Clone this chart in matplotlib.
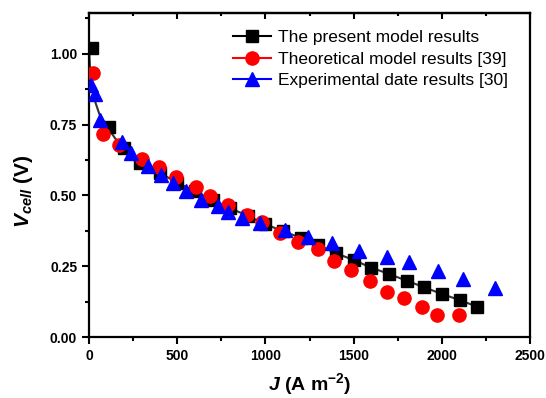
import numpy as np
import matplotlib
matplotlib.use("Agg")
import matplotlib.pyplot as plt
from matplotlib.lines import Line2D
from matplotlib.ticker import MultipleLocator, FormatStrFormatter

plt.rcParams['font.family'] = ['Liberation Sans', 'DejaVu Sans']
plt.rcParams['mathtext.fontset'] = 'custom'
plt.rcParams['mathtext.rm'] = 'Liberation Sans:bold'
plt.rcParams['mathtext.it'] = 'Liberation Sans:italic'
plt.rcParams['mathtext.bf'] = 'Liberation Sans:bold'
plt.rcParams['mathtext.bfit'] = 'Liberation Sans:bold:italic'

# present model (markers)
present_j = [15, 115, 200, 290, 400, 500, 600, 700, 800, 900, 1000, 1100,
             1200, 1300, 1400, 1500, 1600, 1700, 1800, 1900, 2000, 2100, 2200]
present_v = [1.02, 0.741, 0.669, 0.616, 0.58, 0.545, 0.515, 0.485, 0.455, 0.428,
             0.398, 0.374, 0.35, 0.325, 0.296, 0.272, 0.245, 0.223, 0.199, 0.176,
             0.152, 0.131, 0.107]

# present model (continuous curve)
curve_j = [0, 10, 30, 60, 100, 150, 200, 290, 400, 500, 600, 700, 800, 900, 1000,
           1100, 1200, 1300, 1400, 1500, 1600, 1700, 1800, 1900, 2000, 2100, 2200]
curve_v = [1.02, 0.90, 0.84, 0.785, 0.745, 0.70, 0.669, 0.616, 0.58, 0.545, 0.515,
           0.485, 0.455, 0.428, 0.398, 0.374, 0.35, 0.325, 0.296, 0.272, 0.245,
           0.223, 0.199, 0.176, 0.152, 0.131, 0.107]

# theoretical model [39]
theo_j = [20, 82, 170, 302, 398, 493, 607, 684, 788, 898, 983, 1080, 1185, 1300,
          1390, 1485, 1593, 1688, 1786, 1886, 1973, 2098]
theo_v = [0.932, 0.717, 0.678, 0.630, 0.602, 0.564, 0.529, 0.499, 0.466, 0.431,
          0.405, 0.368, 0.337, 0.310, 0.269, 0.237, 0.198, 0.158, 0.138, 0.107,
          0.078, 0.078]

# experimental data [30]
exp_j = [10, 35, 65, 185, 240, 335, 410, 475, 550, 635, 730, 790, 865, 970, 1110,
         1240, 1375, 1530, 1690, 1815, 1975, 2120, 2300]
exp_v = [0.89, 0.858, 0.765, 0.69, 0.65, 0.603, 0.572, 0.543, 0.514, 0.483, 0.462,
         0.443, 0.421, 0.404, 0.378, 0.353, 0.331, 0.304, 0.284, 0.265, 0.233,
         0.205, 0.174]

labels = ['The present model results', 'Theoretical model results [39]',
          'Experimental date results [30]']

fig = plt.figure(figsize=(5.46, 3.98), dpi=100)
ax = fig.add_axes([0.163, 0.153, 0.808, 0.815])

ax.plot(curve_j, curve_v, color='#333333', lw=1.5, zorder=2)
ax.plot(present_j, present_v, 's', color='black', ms=8.5, zorder=3)
ax.plot(theo_j, theo_v, 'o', color='red', mec='red', ms=9.5, zorder=4)
ax.plot(exp_j, exp_v, '^', color='blue', mec='blue', ms=10, zorder=5)

ax.set_xlim(0, 2500)
ax.set_ylim(0, 1.145)
ax.xaxis.set_major_locator(MultipleLocator(500))
ax.xaxis.set_minor_locator(MultipleLocator(250))
ax.yaxis.set_major_locator(MultipleLocator(0.25))
ax.yaxis.set_minor_locator(MultipleLocator(0.125))
ax.yaxis.set_major_formatter(FormatStrFormatter('%.2f'))

for s in ax.spines.values():
    s.set_linewidth(1.6)
ax.tick_params(which='both', direction='out', width=1.5, labelsize=10)
ax.tick_params(which='major', length=5)
ax.tick_params(which='minor', length=3)
for lab in ax.get_xticklabels() + ax.get_yticklabels():
    lab.set_fontweight('bold')

# top ticks pointing inward, no labels
top = ax.secondary_xaxis('top')
top.xaxis.set_major_locator(MultipleLocator(500))
top.xaxis.set_minor_locator(MultipleLocator(250))
top.tick_params(which='both', direction='in', width=1.5, labeltop=False)
top.tick_params(which='major', length=4)
top.tick_params(which='minor', length=2.5)
top.spines['top'].set_linewidth(1.6)

ax.set_xlabel(r'$\mathbfit{J}$ (A m$^{\mathbf{-2}}$)', fontsize=14, fontweight='bold', labelpad=6)
ax.set_ylabel(r'$\mathbfit{V}_{\mathbfit{cell}}$ (V)', fontsize=15, fontweight='bold')
ax.yaxis.set_label_coords(-0.122, 0.45)

handles = [
    Line2D([], [], color='black', marker='s', ms=8.5, lw=1.5),
    Line2D([], [], color='red', marker='o', ms=9.5, lw=1.5),
    Line2D([], [], color='blue', marker='^', ms=10, lw=1.5),
]
ax.legend(handles, labels, loc='upper right', frameon=False, fontsize=12.5,
          handlelength=2.2, handletextpad=0.4, labelspacing=0.36,
          borderaxespad=0.6, bbox_to_anchor=(0.99, 1.0))

fig.savefig('out.png', dpi=100)
